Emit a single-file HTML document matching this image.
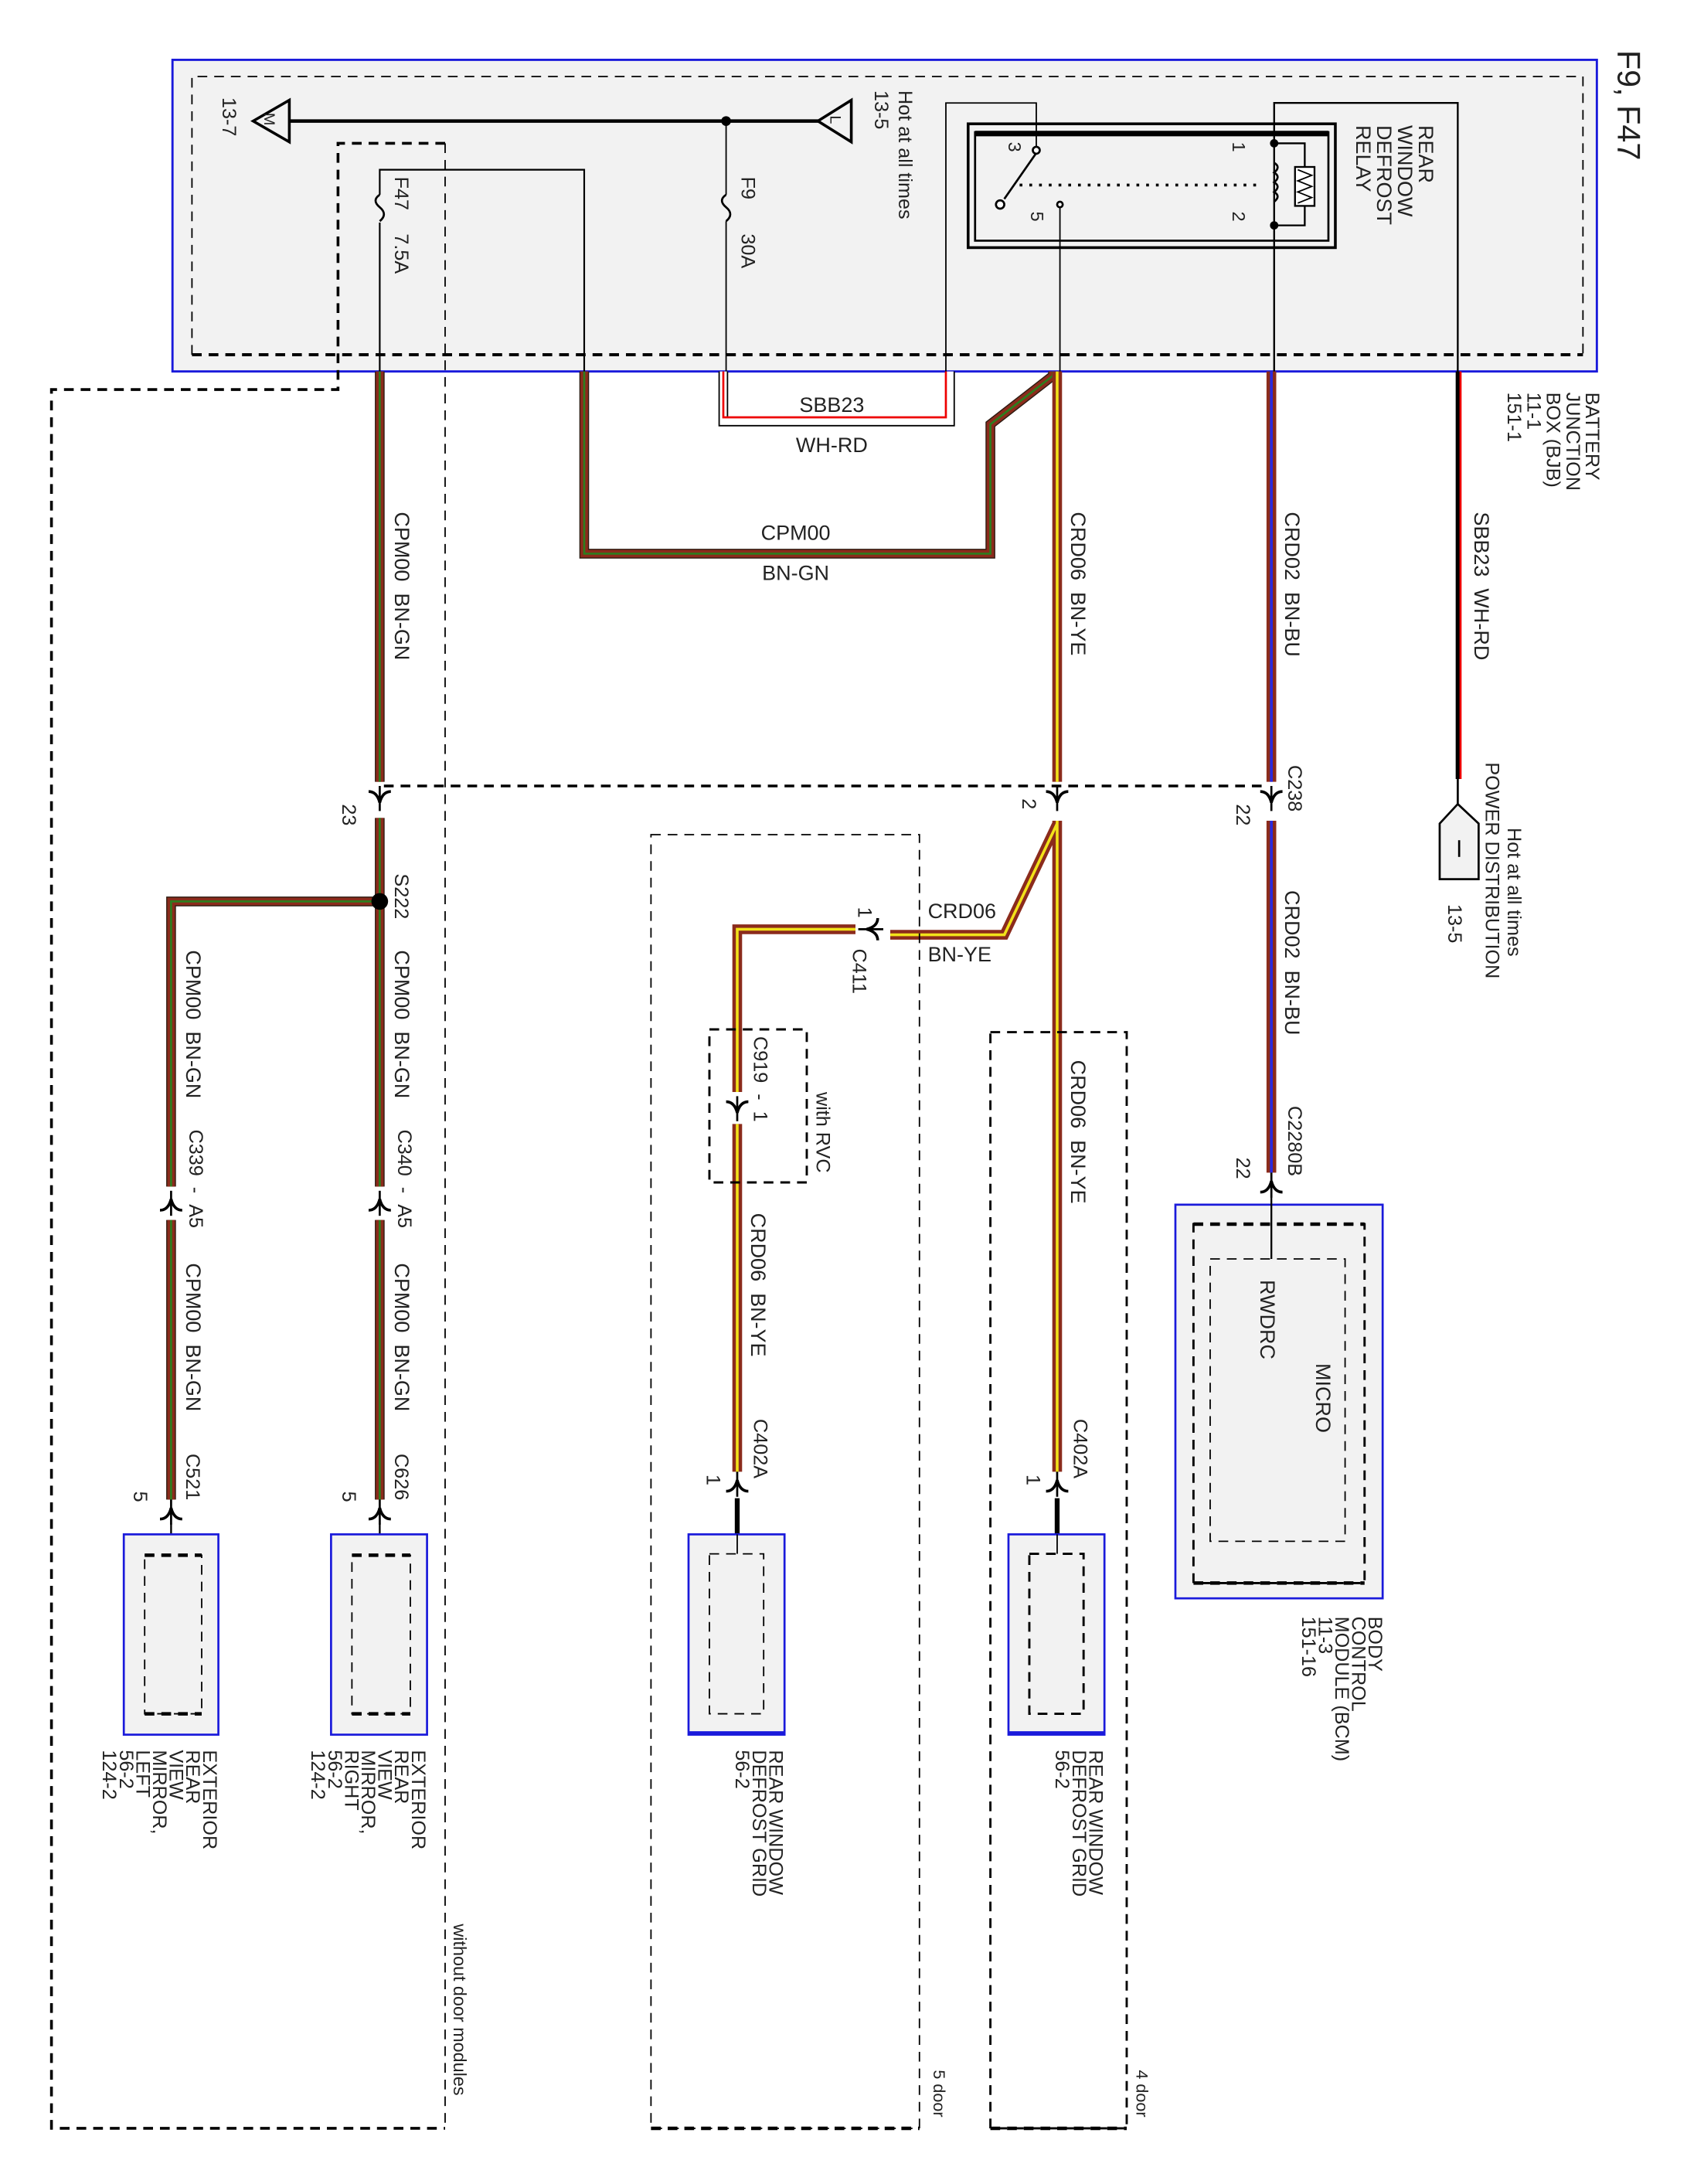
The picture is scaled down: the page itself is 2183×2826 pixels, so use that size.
<!DOCTYPE html>
<html><head><meta charset="utf-8"><style>
html,body{margin:0;padding:0;background:#fff;}
svg{display:block;}
text{font-family:"Liberation Sans",sans-serif;fill:#222;}
</style></head><body>
<svg width="2183" height="2826" viewBox="0 0 1212.8 1570" xmlns="http://www.w3.org/2000/svg">
<defs>
<g id="cdn"><path d="M-8,-5 Q-2,-5 0,3 Q2,-5 8,-5" fill="none" stroke="#000" stroke-width="2"/><line x1="0" y1="-9" x2="0" y2="9" stroke="#000" stroke-width="1.5"/></g>
<g id="cup"><path d="M-8,5 Q-2,5 0,-3 Q2,5 8,5" fill="none" stroke="#000" stroke-width="2"/><line x1="0" y1="-9" x2="0" y2="9" stroke="#000" stroke-width="1.5"/></g>
</defs>

<rect x="124" y="43" width="1024" height="224" fill="#f2f2f2" stroke="#1a1adb" stroke-width="1.6"/>
<path d="M138,255 V55 H1138 V255" fill="none" stroke="#000" stroke-width="1" stroke-dasharray="7,5"/>
<line x1="138" y1="255" x2="1138" y2="255" stroke="#000" stroke-width="2.2" stroke-dasharray="7,5"/>
<text transform="translate(1163,36) rotate(90)" font-size="23">F9, F47</text>

<line x1="195" y1="87" x2="590" y2="87" stroke="#000" stroke-width="2.5"/>
<circle cx="522" cy="87" r="3.5"/>
<path d="M182,87 L208,72 V102 Z" fill="#f2f2f2" stroke="#000" stroke-width="2"/>
<text transform="translate(190,81) rotate(90)" font-size="11">M</text>
<path d="M588,87 L612,72 V102 Z" fill="#f2f2f2" stroke="#000" stroke-width="2"/>
<text transform="translate(597,83) rotate(90)" font-size="11">L</text>
<text transform="translate(160,70) rotate(90)" font-size="14">13-7</text>
<text transform="translate(646,65) rotate(90)" font-size="14">Hot at all times</text>
<text transform="translate(629,65) rotate(90)" font-size="14">13-5</text>

<line x1="522" y1="87" x2="522" y2="140" stroke="#000" stroke-width="1"/>
<path d="M522,140 q-6,4 0,9 q6,5 0,10" fill="none" stroke="#000" stroke-width="1.5"/>
<line x1="522" y1="159" x2="522" y2="267" stroke="#000" stroke-width="1"/>
<text transform="translate(533,127) rotate(90)" font-size="14">F9</text>
<text transform="translate(533,168) rotate(90)" font-size="14">30A</text>

<path d="M273,267 V160 M273,140 V122 H420 V267" fill="none" stroke="#000" stroke-width="1.2"/>
<path d="M273,140 q-6,4 0,9 q6,5 0,10" fill="none" stroke="#000" stroke-width="1.5"/>
<text transform="translate(284,127) rotate(90)" font-size="14">F47</text>
<text transform="translate(284,168) rotate(90)" font-size="14">7.5A</text>

<path d="M320,103 H243 V280 H37 V1530 H320" fill="none" stroke="#000" stroke-width="2" stroke-dasharray="7,5"/>
<line x1="320" y1="103" x2="320" y2="1530" stroke="#000" stroke-width="1" stroke-dasharray="7,5"/>
<text transform="translate(326,1383) rotate(90)" font-size="13">without door modules</text>

<rect x="696" y="89" width="264" height="89" fill="none" stroke="#000" stroke-width="2"/>
<rect x="701" y="95" width="254" height="78" fill="none" stroke="#000" stroke-width="1.5"/>
<line x1="701" y1="96" x2="955" y2="96" stroke="#000" stroke-width="4"/>
<path d="M680,267 V74 H745 V105" fill="none" stroke="#000" stroke-width="1"/>
<circle cx="745" cy="108" r="2.5" fill="#fff" stroke="#000" stroke-width="1.5"/>
<line x1="745" y1="110" x2="722" y2="143" stroke="#000" stroke-width="1.5"/>
<circle cx="719" cy="147" r="3" fill="#fff" stroke="#000" stroke-width="1.5"/>
<circle cx="762" cy="147" r="2" fill="#fff" stroke="#000" stroke-width="1.5"/>
<line x1="762" y1="149" x2="762" y2="267" stroke="#000" stroke-width="1"/>
<line x1="733" y1="133" x2="907" y2="133" stroke="#000" stroke-width="2" stroke-dasharray="2,5"/>
<text transform="translate(725,102) rotate(90)" font-size="13">3</text>
<text transform="translate(741,152) rotate(90)" font-size="13">5</text>
<text transform="translate(886,102) rotate(90)" font-size="13">1</text>
<text transform="translate(886,152) rotate(90)" font-size="13">2</text>
<path d="M916,267 V74 H1048 V560" fill="none" stroke="#000" stroke-width="1.3"/>
<circle cx="916" cy="103" r="3"/><circle cx="916" cy="162" r="3"/>
<path d="M916,103 H938 V162 H916" fill="none" stroke="#000" stroke-width="1.3"/>
<path d="M916,117 q5,3 0,7 q5,3 0,7 q5,3 0,7 q5,3 0,7" fill="none" stroke="#000" stroke-width="1.5"/>
<rect x="931" y="120" width="14" height="28" fill="#fff" stroke="#000" stroke-width="1.3"/>
<path d="M933,122 l10,4 l-10,4 l10,4 l-10,4 l10,4 l-10,4" fill="none" stroke="#000" stroke-width="1"/>
<text transform="translate(1020,90) rotate(90)" font-size="15">REAR</text>
<text transform="translate(1005,90) rotate(90)" font-size="15">WINDOW</text>
<text transform="translate(990,90) rotate(90)" font-size="15">DEFROST</text>
<text transform="translate(975,90) rotate(90)" font-size="15">RELAY</text>

<text transform="translate(1140,282) rotate(90)" font-size="14">BATTERY</text>
<text transform="translate(1126,282) rotate(90)" font-size="14">JUNCTION</text>
<text transform="translate(1112,282) rotate(90)" font-size="14">BOX (BJB)</text>
<text transform="translate(1098,282) rotate(90)" font-size="14">11-1</text>
<text transform="translate(1084,282) rotate(90)" font-size="14">151-1</text>

<path d="M520,267 V303 H683 V267" fill="none" stroke="#000" stroke-width="7"/>
<path d="M520,267 V303 H683 V267" fill="none" stroke="#fff" stroke-width="5"/>
<path d="M520,267 V300 H680 V267" fill="none" stroke="#e00" stroke-width="1.5"/>
<text x="598" y="296" font-size="15" text-anchor="middle">SBB23</text>
<text x="598" y="325" font-size="15" text-anchor="middle">WH-RD</text>
<line x1="1048" y1="267" x2="1048" y2="560" stroke="#000" stroke-width="3"/>
<line x1="1050" y1="267" x2="1050" y2="560" stroke="#e00" stroke-width="1.5"/>
<text transform="translate(1060,368) rotate(90)" font-size="15">SBB23&#160;&#160;WH-RD</text>
<path d="M1048,560 V578 L1035,592 V632 H1063 V592 L1048,578" fill="#f2f2f2" stroke="#000" stroke-width="1.5"/>
<line x1="1049" y1="604" x2="1049" y2="616" stroke="#000" stroke-width="1.5"/>
<text transform="translate(1084,595) rotate(90)" font-size="14">Hot at all times</text>
<text transform="translate(1068,548) rotate(90)" font-size="14">POWER DISTRIBUTION</text>
<text transform="translate(1041,650) rotate(90)" font-size="14">13-5</text>

<g fill="none" stroke-linejoin="miter">
<path d="M273,267 V562 M420,267 V398 H712 V305 L757,270 V267 M273,588 V853 M273,648 H123 V853 M273,877 V1078 M123,877 V1078" stroke="#2a1a10" stroke-width="7"/>
<path d="M273,267 V562 M420,267 V398 H712 V305 L757,270 V267 M273,588 V853 M273,648 H123 V853 M273,877 V1078 M123,877 V1078" stroke="#8b2b1c" stroke-width="5.5"/>
<path d="M273,267 V562 M420,267 V398 H712 V305 L757,270 V267 M273,588 V853 M273,648 H123 V853 M273,877 V1078 M123,877 V1078" stroke="#2d7d1e" stroke-width="1.5"/>
<path d="M760,267 V562 M760,590 V1058 M760,592 L722,672 H640 M615,668 H530 V785 M530,808 V1058" stroke="#8b2b1c" stroke-width="7"/>
<path d="M760,267 V562 M760,590 V1058 M760,592 L722,672 H640 M615,668 H530 V785 M530,808 V1058" stroke="#f2e21a" stroke-width="2"/>
<path d="M914,267 V562 M914,590 V843" stroke="#8b2b1c" stroke-width="7"/>
<path d="M914,267 V562 M914,590 V843" stroke="#2a2ae0" stroke-width="2"/>
</g>
<text transform="translate(284,368) rotate(90)" font-size="15">CPM00&#160;&#160;BN-GN</text>
<text x="572" y="388" font-size="15" text-anchor="middle">CPM00</text>
<text x="572" y="417" font-size="15" text-anchor="middle">BN-GN</text>
<text transform="translate(770,368) rotate(90)" font-size="15">CRD06&#160;&#160;BN-YE</text>
<text transform="translate(924,368) rotate(90)" font-size="15">CRD02&#160;&#160;BN-BU</text>

<line x1="276" y1="565" x2="912" y2="565" stroke="#000" stroke-width="2" stroke-dasharray="7,5"/>
<use href="#cdn" x="273" y="574"/>
<use href="#cdn" x="760" y="574"/>
<use href="#cdn" x="914" y="574"/>
<text transform="translate(246,578) rotate(90)" font-size="14">23</text>
<text transform="translate(735,574) rotate(90)" font-size="14">2</text>
<text transform="translate(889,578) rotate(90)" font-size="14">22</text>
<text transform="translate(926,550) rotate(90)" font-size="14">C238</text>

<circle cx="273" cy="648" r="6"/>
<text transform="translate(284,628) rotate(90)" font-size="14">S222</text>
<text transform="translate(284,683) rotate(90)" font-size="15">CPM00&#160;&#160;BN-GN</text>
<text transform="translate(134,683) rotate(90)" font-size="15">CPM00&#160;&#160;BN-GN</text>
<use href="#cup" x="273" y="865"/>
<use href="#cup" x="123" y="865"/>
<text transform="translate(286,812) rotate(90)" font-size="14">C340&#160;&#160;-&#160;&#160;A5</text>
<text transform="translate(136,812) rotate(90)" font-size="14">C339&#160;&#160;-&#160;&#160;A5</text>
<text transform="translate(284,908) rotate(90)" font-size="15">CPM00&#160;&#160;BN-GN</text>
<text transform="translate(134,908) rotate(90)" font-size="15">CPM00&#160;&#160;BN-GN</text>
<use href="#cup" x="273" y="1087"/>
<use href="#cup" x="123" y="1087"/>
<text transform="translate(284,1045) rotate(90)" font-size="14">C626</text>
<text transform="translate(134,1045) rotate(90)" font-size="14">C521</text>
<text transform="translate(246,1072) rotate(90)" font-size="14">5</text>
<text transform="translate(96,1072) rotate(90)" font-size="14">5</text>
<line x1="273" y1="1095" x2="273" y2="1118" stroke="#000" stroke-width="1.3"/>
<line x1="123" y1="1095" x2="123" y2="1118" stroke="#000" stroke-width="1.3"/>

<rect x="238" y="1103" width="69" height="144" fill="#f2f2f2" stroke="#1a1adb" stroke-width="1.5"/>
<rect x="253" y="1118" width="42" height="114" fill="none" stroke="#000" stroke-width="1" stroke-dasharray="7,5"/>
<rect x="89" y="1103" width="68" height="144" fill="#f2f2f2" stroke="#1a1adb" stroke-width="1.5"/>
<rect x="104" y="1118" width="41" height="114" fill="none" stroke="#000" stroke-width="1" stroke-dasharray="7,5"/>
<line x1="253" y1="1118" x2="295" y2="1118" stroke="#000" stroke-width="2.5" stroke-dasharray="7,5"/>
<line x1="253" y1="1232" x2="295" y2="1232" stroke="#000" stroke-width="2.5" stroke-dasharray="7,5"/>
<line x1="104" y1="1118" x2="145" y2="1118" stroke="#000" stroke-width="2.5" stroke-dasharray="7,5"/>
<line x1="104" y1="1232" x2="145" y2="1232" stroke="#000" stroke-width="2.5" stroke-dasharray="7,5"/>
<g font-size="14">
<text transform="translate(296,1258) rotate(90)">EXTERIOR</text>
<text transform="translate(284,1258) rotate(90)">REAR</text>
<text transform="translate(272,1258) rotate(90)">VIEW</text>
<text transform="translate(260,1258) rotate(90)">MIRROR,</text>
<text transform="translate(248,1258) rotate(90)">RIGHT</text>
<text transform="translate(236,1258) rotate(90)">56-2</text>
<text transform="translate(224,1258) rotate(90)">124-2</text>
<text transform="translate(146,1258) rotate(90)">EXTERIOR</text>
<text transform="translate(134,1258) rotate(90)">REAR</text>
<text transform="translate(122,1258) rotate(90)">VIEW</text>
<text transform="translate(110,1258) rotate(90)">MIRROR,</text>
<text transform="translate(98,1258) rotate(90)">LEFT</text>
<text transform="translate(86,1258) rotate(90)">56-2</text>
<text transform="translate(74,1258) rotate(90)">124-2</text>
</g>

<rect x="468" y="600" width="193" height="930" fill="none" stroke="#000" stroke-width="1" stroke-dasharray="7,5"/>
<line x1="468" y1="1530" x2="661" y2="1530" stroke="#000" stroke-width="2.5" stroke-dasharray="7,5"/>
<text transform="translate(671,1488) rotate(90)" font-size="12">5 door</text>
<text x="667" y="660" font-size="15">CRD06</text>
<text x="667" y="691" font-size="15">BN-YE</text>
<g transform="translate(626,668) rotate(90)"><use href="#cdn"/></g>
<text transform="translate(617,652) rotate(90)" font-size="14">1</text>
<text transform="translate(613,682) rotate(90)" font-size="14">C411</text>
<rect x="510" y="740" width="70" height="110" fill="none" stroke="#000" stroke-width="1.6" stroke-dasharray="7,5"/>
<use href="#cdn" x="530" y="797"/>
<text transform="translate(542,745) rotate(90)" font-size="14">C919&#160;&#160;-&#160;&#160;1</text>
<text transform="translate(587,785) rotate(90)" font-size="14">with RVC</text>
<text transform="translate(540,872) rotate(90)" font-size="15">CRD06&#160;&#160;BN-YE</text>
<use href="#cup" x="530" y="1067"/>
<text transform="translate(542,1020) rotate(90)" font-size="14">C402A</text>
<text transform="translate(508,1060) rotate(90)" font-size="14">1</text>
<line x1="530" y1="1077" x2="530" y2="1103" stroke="#000" stroke-width="3.5"/>
<rect x="495" y="1103" width="69" height="144" fill="#f2f2f2" stroke="#1a1adb" stroke-width="1.5"/>
<line x1="495" y1="1246" x2="564" y2="1246" stroke="#1a1adb" stroke-width="3"/>
<rect x="510" y="1117" width="39" height="115" fill="none" stroke="#000" stroke-width="1" stroke-dasharray="7,5"/>
<line x1="530" y1="1103" x2="530" y2="1117" stroke="#000" stroke-width="1"/>
<g font-size="14">
<text transform="translate(553,1258) rotate(90)">REAR WINDOW</text>
<text transform="translate(541,1258) rotate(90)">DEFROST GRID</text>
<text transform="translate(529,1258) rotate(90)">56-2</text>
</g>

<rect x="712" y="742" width="98" height="788" fill="none" stroke="#000" stroke-width="1.6" stroke-dasharray="7,5"/>
<line x1="712" y1="1530" x2="810" y2="1530" stroke="#000" stroke-width="2.5" stroke-dasharray="7,5"/>
<text transform="translate(817,1488) rotate(90)" font-size="12">4 door</text>
<text transform="translate(770,762) rotate(90)" font-size="15">CRD06&#160;&#160;BN-YE</text>
<use href="#cup" x="760" y="1067"/>
<text transform="translate(772,1020) rotate(90)" font-size="14">C402A</text>
<text transform="translate(738,1060) rotate(90)" font-size="14">1</text>
<line x1="760" y1="1077" x2="760" y2="1103" stroke="#000" stroke-width="3.5"/>
<rect x="725" y="1103" width="69" height="144" fill="#f2f2f2" stroke="#1a1adb" stroke-width="1.5"/>
<line x1="725" y1="1246" x2="794" y2="1246" stroke="#1a1adb" stroke-width="3"/>
<rect x="740" y="1117" width="39" height="115" fill="none" stroke="#000" stroke-width="1.6" stroke-dasharray="7,5"/>
<line x1="760" y1="1103" x2="760" y2="1117" stroke="#000" stroke-width="1"/>
<g font-size="14">
<text transform="translate(783,1258) rotate(90)">REAR WINDOW</text>
<text transform="translate(771,1258) rotate(90)">DEFROST GRID</text>
<text transform="translate(759,1258) rotate(90)">56-2</text>
</g>

<text transform="translate(924,640) rotate(90)" font-size="15">CRD02&#160;&#160;BN-BU</text>
<use href="#cup" x="914" y="852"/>
<text transform="translate(926,795) rotate(90)" font-size="14">C2280B</text>
<text transform="translate(889,832) rotate(90)" font-size="14">22</text>
<rect x="845" y="866" width="149" height="283" fill="#f2f2f2" stroke="#1a1adb" stroke-width="1.5"/>
<rect x="858" y="880" width="123" height="258" fill="none" stroke="#000" stroke-width="1.6" stroke-dasharray="7,5"/>
<line x1="858" y1="880" x2="981" y2="880" stroke="#000" stroke-width="2.5" stroke-dasharray="7,5"/>
<line x1="858" y1="1138" x2="981" y2="1138" stroke="#000" stroke-width="2.5" stroke-dasharray="7,5"/>
<rect x="870" y="905" width="97" height="203" fill="none" stroke="#000" stroke-width="1" stroke-dasharray="7,5"/>
<line x1="914" y1="860" x2="914" y2="905" stroke="#000" stroke-width="1.3"/>
<text transform="translate(906,920) rotate(90)" font-size="15">RWDRC</text>
<text transform="translate(946,980) rotate(90)" font-size="15">MICRO</text>
<g font-size="14">
<text transform="translate(984,1162) rotate(90)">BODY</text>
<text transform="translate(972,1162) rotate(90)">CONTROL</text>
<text transform="translate(960,1162) rotate(90)">MODULE (BCM)</text>
<text transform="translate(948,1162) rotate(90)">11-3</text>
<text transform="translate(936,1162) rotate(90)">151-16</text>
</g>
</svg>
</body></html>
